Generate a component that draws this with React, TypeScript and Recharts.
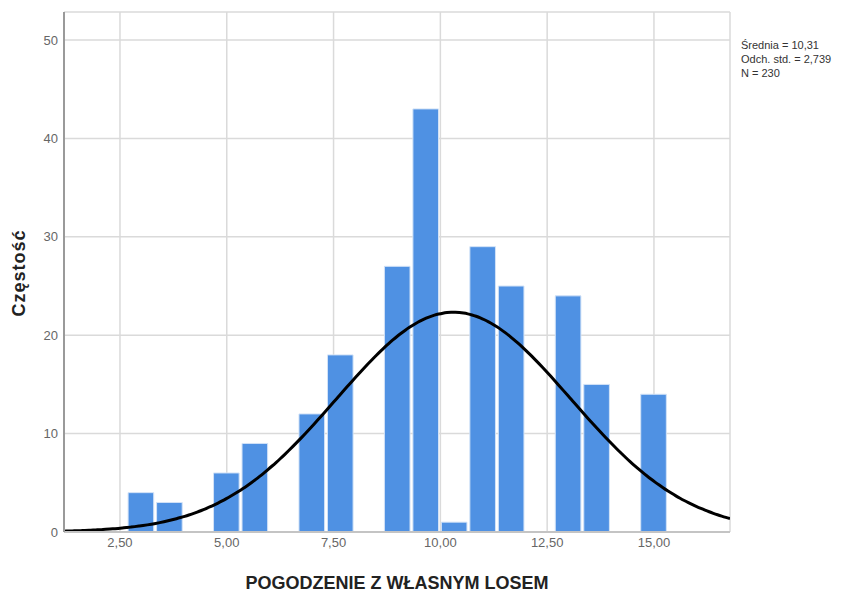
import React from "react";
import {
  ComposedChart,
  Bar,
  Line,
  XAxis,
  YAxis,
  CartesianGrid,
} from "recharts";

// histogram bins: centre of each bin and its count (empty bins left out)
const BIN_CENTERS = [3.0, 3.667, 5.0, 5.667, 7.0, 7.667, 9.0, 9.667, 10.333, 11.0, 11.667, 13.0, 13.667, 15.0];
const BIN_COUNTS = [4, 3, 6, 9, 12, 18, 27, 43, 1, 29, 25, 24, 15, 14];
const BIN_WIDTH = 2 / 3;

const X_TICKS = [2.5, 5, 7.5, 10, 12.5, 15];
const Y_TICKS = [0, 10, 20, 30, 40, 50];
const X_DOMAIN: [number, number] = [1.19, 16.78];
const Y_DOMAIN: [number, number] = [0, 52.85];

// summary statistics printed beside the plot
const MEAN = 10.31;
const STD_DEV = 2.739;
const N = 230;
const STAT_LINES = ["Średnia = 10,31", "Odch. std. = 2,739", "N = 230"];

const W = 842;
const H = 594;
const MARGIN = { top: 12, right: 112, bottom: 32, left: 24 };
const Y_AXIS_W = 40;
const PLOT_W = W - MARGIN.left - MARGIN.right - Y_AXIS_W;

const FONT = '"Liberation Sans", Arial, sans-serif';

const bins = BIN_CENTERS.map((x, i) => ({ x, count: BIN_COUNTS[i] }));

// fitted normal curve scaled to the histogram (N * bin width)
const normal = (x: number) =>
  (N * BIN_WIDTH) / (STD_DEV * Math.sqrt(2 * Math.PI)) *
  Math.exp(-((x - MEAN) ** 2) / (2 * STD_DEV * STD_DEV));

const curve: { x: number; y: number }[] = [];
for (let i = 0; i <= 160; i++) {
  const x = X_DOMAIN[0] + ((X_DOMAIN[1] - X_DOMAIN[0]) * i) / 160;
  curve.push({ x, y: normal(x) });
}

const fmtX = (v: number) => v.toFixed(2).replace(".", ",");

export default function App() {
  const barSize = (BIN_WIDTH * PLOT_W) / (X_DOMAIN[1] - X_DOMAIN[0]);
  return (
    <div style={{ position: "absolute", left: 0, top: 0, width: W, height: H, background: "#fff", fontFamily: FONT }}>
      <ComposedChart width={W} height={H} data={bins} margin={MARGIN}>
        <CartesianGrid stroke="#dadada" strokeWidth={1.5} />
        <XAxis
          dataKey="x"
          type="number"
          domain={X_DOMAIN}
          ticks={X_TICKS}
          tickFormatter={fmtX}
          allowDataOverflow
          height={30}
          tickLine={false}
          tickMargin={0}
          axisLine={{ stroke: "#c4c4c4", strokeWidth: 2 }}
          tick={{ fill: "#666", fontSize: 13, fontFamily: FONT }}
        />
        {/* separate hidden axis so the curve points don't shrink the bar band */}
        <XAxis
          xAxisId="fit"
          dataKey="x"
          type="number"
          domain={X_DOMAIN}
          allowDataOverflow
          hide
        />
        <YAxis
          type="number"
          domain={Y_DOMAIN}
          ticks={Y_TICKS}
          width={Y_AXIS_W}
          allowDataOverflow
          tickLine={false}
          tickMargin={0}
          axisLine={{ stroke: "#9a9a9a", strokeWidth: 2 }}
          tick={{ fill: "#666", fontSize: 13, fontFamily: FONT }}
        />
        <Bar
          dataKey="count"
          barSize={barSize}
          fill="#4f91e3"
          stroke="#d2e2f7"
          strokeWidth={1}
          isAnimationActive={false}
        />
        <Line
          xAxisId="fit"
          data={curve}
          dataKey="y"
          type="monotone"
          stroke="#000"
          strokeWidth={3}
          dot={false}
          activeDot={false}
          isAnimationActive={false}
        />
      </ComposedChart>
      <div style={{ position: "absolute", left: 741, top: 38, fontSize: 11, lineHeight: "14px", color: "#333" }}>
        {STAT_LINES.map((s) => (
          <div key={s}>{s}</div>
        ))}
      </div>
      <div
        style={{
          position: "absolute",
          left: 19,
          top: 273,
          transform: "translate(-50%, -50%) rotate(-90deg)",
          fontSize: 18,
          letterSpacing: 1,
          fontWeight: "bold",
          color: "#222",
          whiteSpace: "nowrap",
        }}
      >
        Częstość
      </div>
      <div
        style={{
          position: "absolute",
          left: 397,
          top: 583,
          transform: "translate(-50%, -50%)",
          fontSize: 18,
          fontWeight: "bold",
          color: "#222",
          whiteSpace: "nowrap",
        }}
      >
        POGODZENIE Z WŁASNYM LOSEM
      </div>
    </div>
  );
}
